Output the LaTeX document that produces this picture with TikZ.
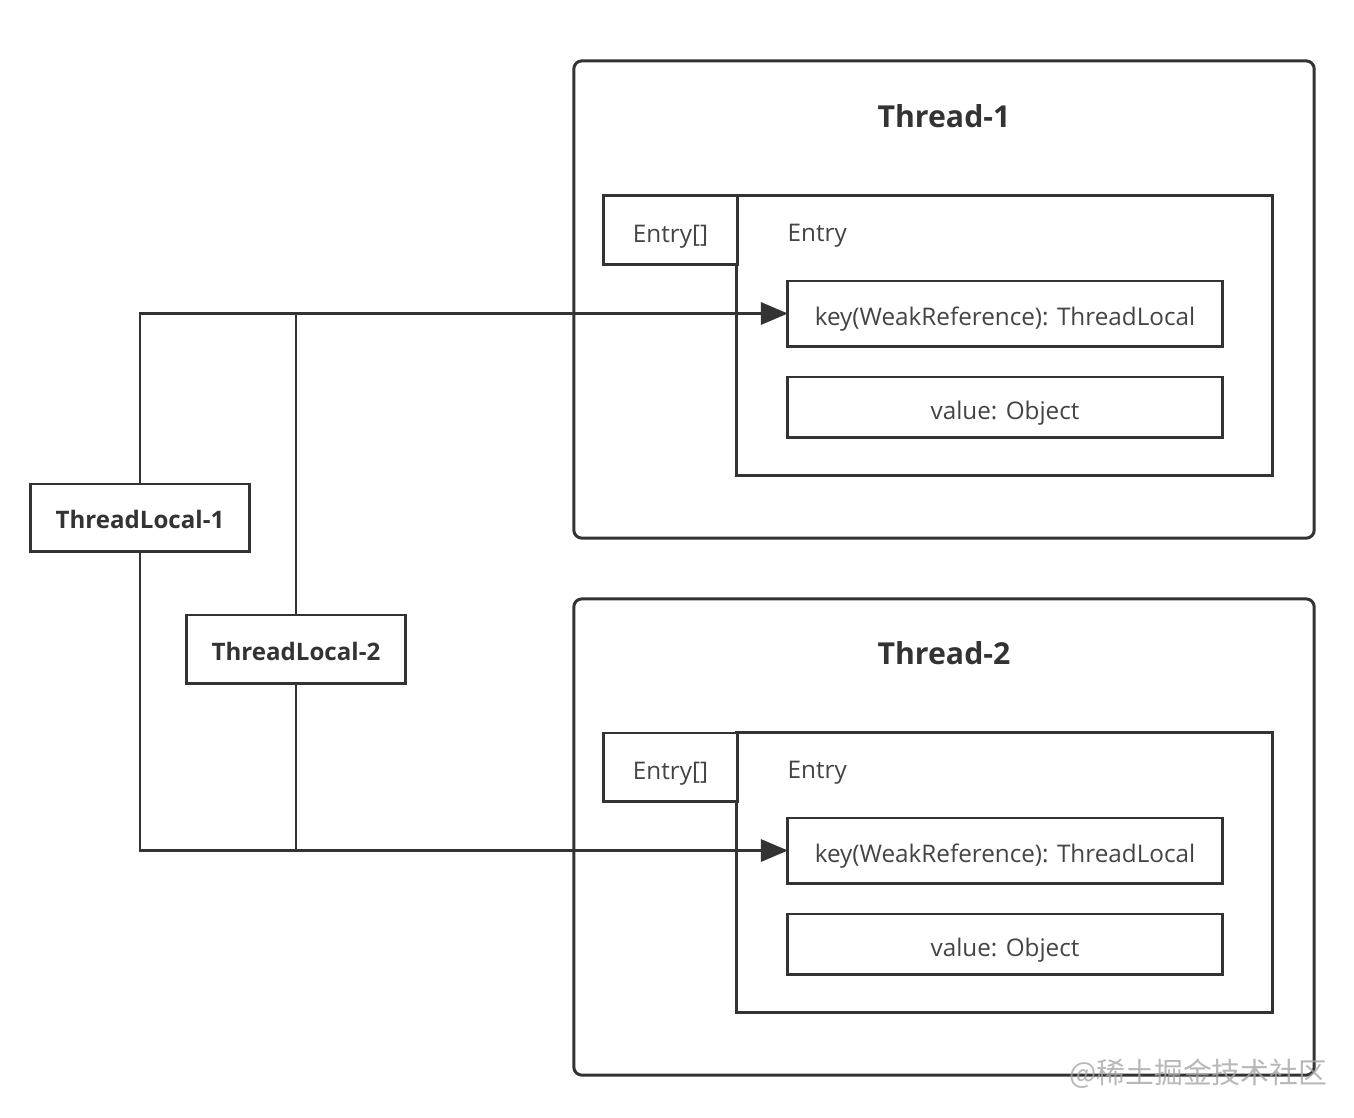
\documentclass[tikz,border=0pt]{standalone}
\usepackage{fontspec}
\setmainfont{Open Sans}
\newfontfamily\cjkwm{Noto Sans CJK SC}
\usetikzlibrary{arrows.meta}
\definecolor{ln}{HTML}{333333}
\definecolor{tx}{HTML}{444444}
\tikzset{
  box/.style={draw=ln, line width=0.85pt, fill=white, inner sep=0pt, outer sep=0pt, text=tx, font=\fontsize{6.9pt}{8pt}\selectfont, text height=7.6pt, text depth=0.65pt},
  thread/.style={draw=ln, line width=0.85pt, fill=white, inner sep=0pt, outer sep=0pt, rounded corners=2.3pt},
  tl/.style={box, text=ln, font=\fontsize{6.85pt}{8pt}\selectfont\bfseries, text height=6.42pt, text depth=0pt},
  title/.style={text=ln, font=\fontsize{8.6pt}{10pt}\selectfont\bfseries, inner sep=0pt},
  lbl/.style={text=tx, font=\fontsize{6.9pt}{8pt}\selectfont, inner sep=0pt},
  conn/.style={draw=ln, line width=0.85pt},
  arr/.style={conn, -{Triangle[length=7.7pt, width=6.3pt]}}
}
\begin{document}
\begin{tikzpicture}[x=0.01cm, y=-0.01cm]
\useasboundingbox (0,0) rectangle (1354,1117);
% Thread-1
\node[thread, minimum width=7.4cm, minimum height=4.77cm] (t1) at (944,299.5) {};
\node[title] (t1title) at (944,116) {Thread-1};
\node[box, minimum width=5.35cm, minimum height=2.79cm] (e1) at (1004.5,335.5) {};
\node[box, minimum width=1.33cm, minimum height=0.68cm] (ea1) at (670.5,230) {Entry[]};
\node[lbl, anchor=west] (e1lbl) at (787,236) {Entry};
\node[box, minimum width=4.34cm, minimum height=0.65cm] (k1) at (1005,313.5) {key(WeakReference): ThreadLocal};
\node[box, minimum width=4.34cm, minimum height=0.60cm] (v1) at (1005,407) {value: Object};
% Thread-2
\node[thread, minimum width=7.4cm, minimum height=4.76cm] (t2) at (944,837) {};
\node[title] (t2title) at (944,653) {Thread-2};
\node[box, minimum width=5.35cm, minimum height=2.79cm] (e2) at (1004.5,872.5) {};
\node[box, minimum width=1.33cm, minimum height=0.68cm] (ea2) at (670.5,767) {Entry[]};
\node[lbl, anchor=west] (e2lbl) at (787,773) {Entry};
\node[box, minimum width=4.34cm, minimum height=0.65cm] (k2) at (1005,850.5) {key(WeakReference): ThreadLocal};
\node[box, minimum width=4.34cm, minimum height=0.60cm] (v2) at (1005,944) {value: Object};
% ThreadLocals
\node[tl, minimum width=2.18cm, minimum height=0.67cm] (tl1) at (140,517.5) {ThreadLocal-1};
\node[tl, minimum width=2.18cm, minimum height=0.68cm] (tl2) at (296,649) {ThreadLocal-2};
% connectors
\draw[arr] (tl1.north) |- (k1.west);
\draw[arr] (tl1.south) |- (k2.west);
\draw[conn] (tl2.north) -- (tl2.north |- k1.west);
\draw[conn] (tl2.south) -- (tl2.south |- k2.west);
% watermark
\node[text=black!35, opacity=0.8, font=\cjkwm\fontsize{8.2pt}{9pt}\selectfont, anchor=east, inner sep=0pt] (wm) at (1328,1074) {@稀土掘金技术社区};
\end{tikzpicture}
\end{document}
